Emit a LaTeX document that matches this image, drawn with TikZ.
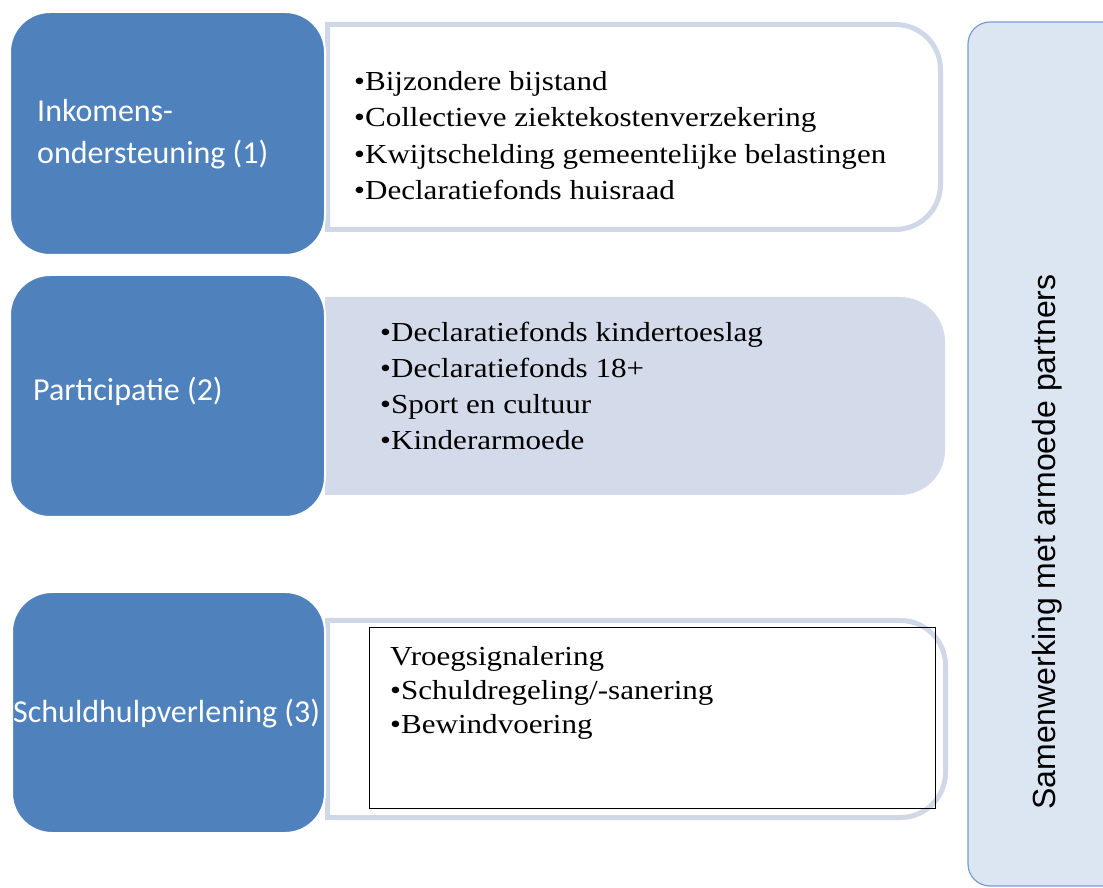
\documentclass[tikz,border=0pt]{standalone}
\usepackage{fontspec}
\setmainfont{Liberation Serif}
\newfontfamily\boxfont{Carlito}
\newfontfamily\listfont{Liberation Serif}[FakeStretch=1.13]
\newfontfamily\sidefont{Liberation Sans}
\usepackage{tikz}
\usetikzlibrary{backgrounds}
\definecolor{smartblue}{HTML}{4F81BD}
\definecolor{panelline}{HTML}{D0D8E8}
\definecolor{panelfill}{HTML}{D3DAEA}
\definecolor{sidefill}{HTML}{DCE6F2}
\definecolor{sideline}{HTML}{789DCF}
\newcommand{\rad}{45}
\newcommand{\rightround}[4]{(#1,#2) -- ({#3-\rad},#2) arc[start angle=90,end angle=0,radius=\rad] -- (#3,{#4+\rad}) arc[start angle=0,end angle=-90,radius=\rad] -- (#1,#4) -- cycle}

\begin{document}
\begin{tikzpicture}[x=1pt,y=1pt,
  bluebox/.style={fill=smartblue,draw=white,line width=2pt,rounded corners=40pt,inner sep=0pt},
  boxlabel/.style={anchor=base west,inner sep=0pt,text=white,font=\boxfont\fontsize{32}{38}\selectfont},
  listline/.style={anchor=base west,inner sep=0pt,font=\listfont\fontsize{27.5}{33}\selectfont}]
\useasboundingbox (0,0) rectangle (1103,887);
%blue boxes
\node[bluebox,minimum width=315pt,minimum height=243pt] (ink) at (167.5,753.5) {};
\node[bluebox,minimum width=315pt,minimum height=242pt] (par) at (167.5,491) {};
\node[bluebox,minimum width=313pt,minimum height=241pt] (sch) at (168.5,174.5) {};
\node[boxlabel] (inklabel) at (37,765) {Inkomens-};
\node[boxlabel] (inklabel2) at (37,723) {ondersteuning (1)};
\node[boxlabel] (parlabel) at (33,486) {Participatie (2)};
\node[boxlabel] (schlabel) at (13,165) {Schuldhulpverlening (3)};
%lists
\foreach \t [count=\i] in {•Bijzondere bijstand,•Collectieve ziektekostenverzekering,•Kwijtschelding gemeentelijke belastingen,•Declaratiefonds huisraad}
  \node[listline] (inkitem\i) at (354,{796.3-36.2*(\i-1)}) {\t};
\foreach \t [count=\i] in {•Declaratiefonds kindertoeslag,•Declaratiefonds 18+,•Sport en cultuur,•Kinderarmoede}
  \node[listline] (paritem\i) at (380,{545-35.7*(\i-1)}) {\t};
\foreach \t [count=\i] in {Vroegsignalering,•Schuldregeling/-sanering,•Bewindvoering}
  \node[listline] (schitem\i) at (390,{222-34*(\i-1)}) {\t};
%panels
\begin{scope}[on background layer]
\draw[panelline,fill=white,line width=5pt] \rightround{327.5}{862.5}{940.5}{657.5};
\fill[panelfill] \rightround{325}{590}{945}{392};
\draw[panelline,fill=white,line width=5pt] \rightround{327.5}{266.5}{945.5}{69.5};
\draw[black,line width=1pt] (369,260) rectangle (935,79);
\end{scope}
%side
\draw[sideline,fill=sidefill,line width=1.2pt,rounded corners=22pt] (1103,865) -- (968,865) -- (968,1) -- (1103,1);
\node[rotate=90,inner sep=0pt,font=\sidefont\fontsize{32}{38}\selectfont] (samen) at (1047,345) {Samenwerking met armoede partners};
\end{tikzpicture}
\end{document}
